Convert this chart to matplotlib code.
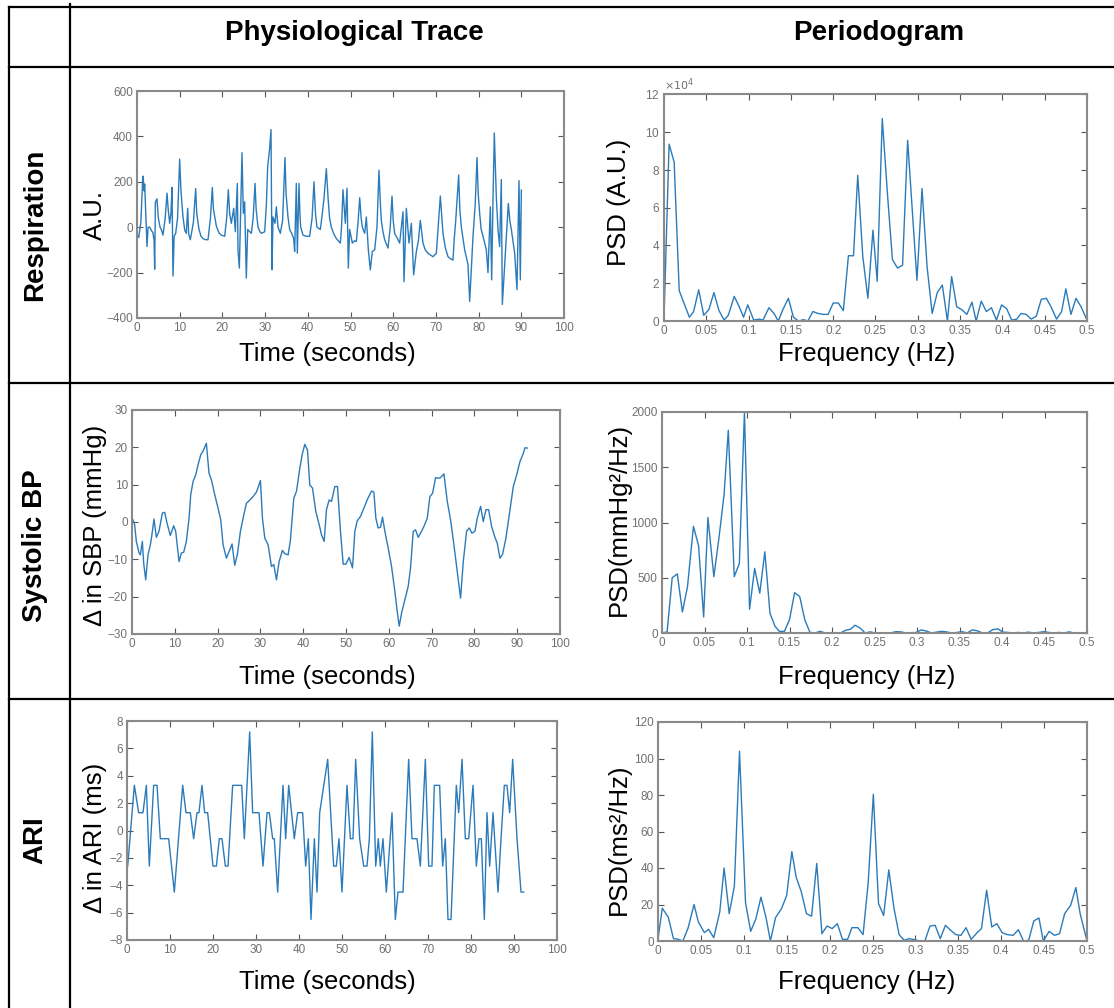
import matplotlib
matplotlib.use("Agg")
import matplotlib.pyplot as plt
from matplotlib.lines import Line2D
from matplotlib.ticker import FuncFormatter, ScalarFormatter

W, H = 1114, 1008
LINE = "#2b7bba"
SPINE = "#8a8a8a"
TICKC = "#707070"
TICKFONT = ["Liberation Sans Narrow", "Liberation Sans", "DejaVu Sans"]
FONT = ["Liberation Sans", "DejaVu Sans"]

# ---- data ----
resp_t = [0.0, 0.4, 0.9, 1.3, 1.45, 1.65, 1.8, 2.1, 2.34, 2.6, 2.97, 3.4, 3.75, 4.0, 4.14, 4.3,
          4.68, 5.0, 5.4, 5.7, 6.09, 6.6, 7.03, 7.3, 7.65, 7.95, 8.20, 8.43, 8.7, 9.06, 9.5,
          9.99, 10.3, 10.77, 11.2, 11.55, 11.87, 12.1, 12.49, 13.2, 13.74, 14.0, 14.52, 15.0,
          15.46, 16.0, 16.63, 17.2, 17.64, 17.9, 18.58, 19.2, 19.75, 20.53, 21.0, 21.39, 21.7,
          22.09, 22.64, 23.03, 23.50, 23.65, 23.97, 24.28, 24.59, 24.90, 25.21, 25.60, 25.92,
          26.4, 26.78, 27.2, 27.64, 27.9, 28.34, 28.8, 29.12, 29.90, 30.3, 30.60, 31.07, 31.38,
          31.62, 31.85, 32.32, 32.63, 33.02, 33.57, 34.1, 34.66, 34.9, 35.36, 35.75, 36.3, 36.69,
          36.92, 37.31, 37.55, 37.94, 38.15, 38.33, 38.88, 39.66, 40.44, 41.0, 41.45, 41.8,
          42.15, 42.94, 43.4, 43.79, 44.34, 44.73, 45.1, 45.51, 46.1, 46.68, 47.62, 47.9, 48.24,
          48.79, 49.18, 49.49, 49.80, 50.43, 50.9, 51.37, 51.8, 52.15, 52.5, 52.77, 53.32,
          53.71, 54.18, 54.64, 55.11, 55.66, 56.2, 56.67, 57.0, 57.22, 57.6, 58.00, 58.78, 59.3,
          59.72, 60.0, 60.34, 61.0, 61.51, 62.30, 62.53, 63.08, 63.70, 64.25, 64.79, 65.42,
          65.9, 66.35, 66.98, 67.5, 68.15, 69.32, 70.10, 70.6, 71.04, 71.66, 72.2, 72.83, 73.5,
          74.00, 74.3, 74.63, 75.33, 75.6, 75.96, 76.74, 77.52, 77.91, 78.69, 79.2, 79.63, 79.9,
          80.25, 80.6, 81.03, 81.81, 82.20, 82.75, 83.06, 83.37, 83.68, 84.15, 84.54, 84.93,
          85.32, 85.56, 85.95, 86.49, 86.96, 87.3, 87.67, 88.45, 88.99, 89.46, 89.77, 90.01]
resp_v = [-30, -45, 20, 200, 225, 160, 190, 30, -85, 0, 0, -15, -25, -60, -185, 110,
          125, 40, 0, -10, -35, 40, 150, 80, 17, 60, 175, -215, -40, -27, 40,
          300, 160, 45, -15, -27, 83, -30, -55, 20, 170, 60, -10, -40,
          -50, -55, -55, 40, 175, 80, 5, -25, -35, -40, 40, 165, 60,
          17, 83, -20, 193, -100, -180, 75, 328, 61, 112, -224, -10,
          -20, -27, 40, 193, 80, 0, -20, -27, -20, 100, 266, 347, 430,
          -188, 45, 17, 90, 0, -27, 30, 307, 150, 45, -10, -30, -50,
          -107, 193, -115, 193, 60, 0, -35, -40, -40, 40, 200, 60,
          0, -10, 60, 127, 258, 134, 40, 0, -30, -50, -70, 0, 165,
          17, 172, -180, -10, -70, -60, -63, 30, 130, 40, 0, -27,
          45, -100, -188, -107, -100, 0, 251, 100, 30, -20, -55, -92, 0,
          137, 30, -27, -50, -70, 68, -240, 83, -70, 17, -210, -107,
          -60, 30, -70, -100, -115, -130, -115, 20, 137, -27, -90, -130, -140,
          -145, -50, 25, 230, 80, 0, -100, -165, -327, -40, 100, 307, 150,
          61, -10, -40, -100, -200, 90, -232, 120, 415, 134, -10, -85,
          210, -340, -217, -40, 105, 30, -10, -115, -275, 205, -232, 164]

resp_f = [0.000, 0.006, 0.012, 0.018, 0.024, 0.030, 0.035, 0.041, 0.047, 0.053, 0.059, 0.065,
          0.071, 0.076, 0.083, 0.089, 0.094, 0.099, 0.106, 0.112, 0.117, 0.124, 0.130, 0.135,
          0.141, 0.147, 0.153, 0.159, 0.165, 0.170, 0.176, 0.182, 0.188, 0.194, 0.200, 0.206,
          0.212, 0.218, 0.224, 0.229, 0.235, 0.241, 0.247, 0.252, 0.258, 0.264, 0.270, 0.276,
          0.282, 0.288, 0.294, 0.299, 0.305, 0.311, 0.317, 0.323, 0.329, 0.335, 0.340, 0.346,
          0.352, 0.358, 0.364, 0.369, 0.375, 0.381, 0.387, 0.393, 0.399, 0.405, 0.411, 0.417,
          0.422, 0.428, 0.434, 0.440, 0.446, 0.452, 0.458, 0.464, 0.470, 0.475, 0.481, 0.487,
          0.493, 0.500]
resp_psd_e4 = [0.1, 9.35, 8.4, 1.6, 0.9, 0.2, 0.5, 1.65, 0.3, 0.6, 1.5, 0.55,
               0.05, 0.3, 1.3, 0.75, 0.2, 0.85, 0.05, 0.1, 0.05, 0.7, 0.4, 0.0,
               0.65, 1.2, 0.2, 0.0, 0.07, 0.0, 0.5, 0.4, 0.35, 0.35, 0.95, 0.95,
               0.55, 3.45, 3.45, 7.7, 3.4, 1.2, 4.8, 2.1, 10.7, 6.8, 3.25, 2.8,
               2.95, 9.55, 5.5, 2.15, 7.0, 2.85, 0.4, 1.5, 1.9, 0.0, 2.35, 0.75,
               0.6, 0.35, 1.0, 0.0, 1.05, 0.5, 0.7, 0.05, 0.85, 0.65, 0.05, 0.1,
               0.4, 0.35, 0.1, 0.25, 1.15, 1.2, 0.7, 0.1, 0.5, 1.7, 0.35, 1.2,
               0.75, 0.05]

sbp_t = [0.23, 0.62, 1.01, 1.64, 1.95, 2.42, 2.73, 3.20, 3.74, 4.29, 4.60, 5.14, 5.69, 6.31,
         7.09, 7.64, 8.18, 8.96, 9.74, 10.21, 10.52, 10.99, 11.54, 12.08, 12.70, 13.33, 13.72,
         14.26, 14.89, 15.43, 16.06, 16.60, 17.38, 17.99, 18.55, 19.33, 20.11, 20.73, 21.28,
         22.06, 22.68, 23.38, 24.01, 24.63, 25.33, 25.95, 26.73, 27.51, 28.29, 29.07, 29.54,
         30.01, 30.48, 31.02, 31.80, 32.58, 33.13, 33.75, 34.37, 35.15, 35.70, 36.48, 37.02,
         37.80, 38.43, 39.21, 39.75, 40.37, 41.00, 41.54, 42.17, 42.95, 43.73, 44.27, 44.90,
         45.44, 46.06, 46.61, 47.39, 48.01, 48.71, 49.34, 49.96, 50.74, 51.52, 52.07, 52.61,
         53.39, 54.17, 54.95, 55.96, 56.51, 56.98, 57.52, 58.07, 58.53, 59.08, 59.86, 60.64,
         61.42, 61.96, 62.43, 62.98, 63.76, 64.54, 65.08, 65.71, 66.25, 66.87, 67.65, 68.20,
         68.98, 69.60, 70.23, 70.93, 71.55, 72.10, 72.88, 73.66, 74.43, 75.21, 75.99, 76.77,
         77.40, 78.18, 78.80, 79.42, 80.12, 80.67, 81.45, 82.07, 82.70, 83.32, 84.02, 84.80,
         85.35, 85.97, 86.59, 87.37, 88.15, 89.09, 89.87, 90.65, 91.43, 91.82, 92.36]
sbp_v = [0.6, -0.7, -5.2, -8.3, -8.8, -5.2, -11.0, -15.5, -8.8, -6.1, -3.9, 0.8, -4.1, -2.5,
         2.4, 2.6, -0.3, -3.6, -1.0, -2.5, -5.7, -10.6, -8.3, -8.1, -5.2, 1.0, 7.3,
         10.8, 12.6, 15.3, 18.0, 19.0, 21.1, 13.1, 11.3, 7.3, 3.7, 0.6, -6.1,
         -9.7, -7.9, -5.9, -11.6, -8.6, -2.5, 1.0, 5.0, 5.9, 6.8, 8.0, 9.5,
         11.1, 1.0, -4.3, -6.1, -11.9, -11.4, -15.5, -10.6, -7.6, -8.5, -8.8, -4.8,
         6.4, 8.2, 14.4, 18.0, 20.8, 19.3, 9.9, 9.1, 2.8, -0.7, -3.4, -5.2,
         3.3, 5.9, 5.5, 9.5, 9.5, -2.5, -11.3, -11.3, -9.5, -12.3, -2.5, 0.3,
         1.5, 3.7, 5.9, 8.3, 8.0, 1.0, -1.6, -1.4, 1.3, -2.5, -7.0, -11.9,
         -18.6, -23.9, -27.9, -24.4, -20.8, -17.2, -12.3, -2.5, -2.1, -4.1, -2.5, -1.2,
         1.0, 6.8, 7.7, 11.9, 11.7, 11.9, 12.9, 5.5, 0.6, -6.1, -13.2, -20.4,
         -10.6, -2.5, -1.6, -3.0, -2.5, 1.0, 4.2, 0.1, 3.3, 3.3, -1.2, -4.1,
         -5.7, -9.7, -8.6, -4.3, 1.9, 9.5, 12.6, 16.2, 18.4, 19.9, 19.8]

sbp_f = [0.000, 0.006, 0.012, 0.018, 0.024, 0.030, 0.037, 0.043, 0.049, 0.054, 0.061, 0.067,
         0.073, 0.078, 0.085, 0.091, 0.097, 0.103, 0.109, 0.115, 0.121, 0.127, 0.133, 0.138,
         0.144, 0.150, 0.156, 0.162, 0.168, 0.174, 0.180, 0.186, 0.192, 0.198, 0.204, 0.210,
         0.216, 0.222, 0.227, 0.233, 0.239, 0.245, 0.251, 0.257, 0.263, 0.269, 0.275, 0.281,
         0.287, 0.293, 0.299, 0.305, 0.311, 0.317, 0.323, 0.329, 0.335, 0.341, 0.347, 0.353,
         0.359, 0.365, 0.371, 0.377, 0.383, 0.389, 0.395, 0.401, 0.407, 0.413, 0.419, 0.425,
         0.431, 0.437, 0.443, 0.449, 0.455, 0.461, 0.467, 0.473, 0.479, 0.485, 0.491]
sbp_psd = [0, 10, 500, 535, 190, 420, 965, 790, 145, 1045, 510, 860,
           1250, 1835, 510, 630, 2000, 215, 585, 360, 735, 180, 60, 15,
           15, 120, 365, 330, 120, 6, 0, 15, 0, 0, 0, 0,
           25, 35, 70, 45, 0, 10, 0, 0, 2, 0, 12, 10,
           0, 2, 5, 28, 18, 0, 8, 15, 10, 0, 5, 12,
           0, 28, 20, 0, 0, 30, 38, 8, 5, 0, 5, 0,
           8, 0, 5, 12, 5, 0, 5, 0, 10, 0, 0]

ari_t = [0.16, 1.71, 2.71, 3.72, 4.50, 5.19, 6.20, 6.98, 7.75, 9.69, 11.01, 12.95, 13.72,
         14.73, 15.50, 16.28, 16.74, 17.44, 18.06, 18.76, 20.00, 20.78, 21.47, 22.09, 22.87,
         23.49, 24.57, 26.67, 27.29, 28.53, 29.22, 30.70, 31.63, 32.56, 33.10, 33.88, 34.26,
         35.04, 36.28, 36.90, 37.60, 38.91, 39.69, 40.85, 41.55, 42.17, 42.79, 43.57, 44.19,
         44.81, 46.67, 48.06, 48.68, 49.30, 50.00, 51.16, 51.94, 52.56, 53.18, 54.11, 55.04,
         55.81, 56.36, 57.05, 57.83, 58.45, 58.91, 59.53, 60.31, 61.63, 62.40, 63.02, 64.19,
         65.50, 66.28, 67.44, 68.22, 69.38, 70.16, 70.93, 71.47, 72.71, 73.41, 74.03, 74.65,
         75.35, 76.59, 77.13, 77.91, 78.68, 79.46, 80.47, 81.24, 81.86, 82.40, 83.10, 83.72,
         84.34, 85.12, 86.28, 86.98, 87.75, 88.37, 88.99, 89.69, 90.70, 91.63, 92.25]
ari_v = [-2.6, 3.3, 1.3, 1.3, 3.3, -2.6, 3.3, 3.3, -0.6, -0.6, -4.5, 3.3, 1.3,
         1.3, -0.6, 1.3, 1.3, 3.3, 1.3, 1.3, -2.6, -2.6, -0.6, -0.6, -2.6,
         -2.6, 3.3, 3.3, -0.6, 7.2, 1.3, 1.3, -2.6, 1.3, 1.3, -0.6, -0.6,
         -4.5, 3.3, -0.6, 3.3, -0.6, 1.3, 1.3, -2.6, -0.6, -6.5, -0.6, -4.5,
         1.3, 5.2, -2.6, -2.6, -0.6, -4.5, 3.3, -0.6, -0.6, 5.2, -0.6, -2.6,
         -2.6, -0.6, 7.2, -2.6, -0.6, -2.6, -0.6, -4.5, 1.3, -6.5, -4.5, -4.5,
         5.2, -0.6, -0.6, -2.6, 5.2, -2.6, -2.6, 3.3, 3.3, -2.6, -0.6, -6.5,
         -6.5, 3.3, 1.3, 5.2, -0.6, -0.6, 3.3, -2.6, -0.6, -0.6, -6.5, 1.3,
         -2.6, 1.3, -4.5, -0.6, 3.3, 3.3, 1.3, 5.2, -0.6, -4.5, -4.5]

ari_f = [0.000, 0.005, 0.012, 0.018, 0.023, 0.029, 0.035, 0.042, 0.047, 0.054, 0.059, 0.065,
         0.072, 0.077, 0.083, 0.089, 0.095, 0.102, 0.108, 0.114, 0.120, 0.126, 0.131, 0.137,
         0.144, 0.150, 0.156, 0.161, 0.167, 0.173, 0.179, 0.185, 0.191, 0.197, 0.203, 0.209,
         0.215, 0.221, 0.226, 0.233, 0.239, 0.245, 0.251, 0.257, 0.263, 0.269, 0.275, 0.281,
         0.287, 0.293, 0.299, 0.305, 0.311, 0.317, 0.323, 0.329, 0.335, 0.341, 0.347, 0.353,
         0.359, 0.365, 0.372, 0.377, 0.383, 0.389, 0.395, 0.401, 0.407, 0.414, 0.420, 0.426,
         0.432, 0.438, 0.444, 0.449, 0.456, 0.462, 0.468, 0.474, 0.481, 0.487, 0.492, 0.500]
ari_psd = [1, 18, 13, 1.3, 1, 0, 7, 20, 10.5, 4.6, 6.4, 1.8,
           16, 40, 15, 30, 104, 21, 5.3, 12, 24, 12.6, 0, 12.8,
           17.8, 25, 49, 35, 27, 15, 13.6, 42.5, 4, 8.2, 6.8, 9.5,
           0.9, 0.9, 7.3, 7.3, 3.5, 32, 80.4, 20.5, 14, 39, 18, 3.5,
           0.4, 1.3, 0.7, 0, 0, 8.2, 8.6, 1.3, 8.6, 5.9, 3.5, 3.1,
           7.3, 0.9, 4.6, 6.8, 27.8, 7.7, 9.5, 4.6, 3.5, 3.1, 6.2, 0,
           0.4, 11, 12.6, 0, 5.3, 3.1, 4, 15, 19.6, 29.3, 15, 0]

row_names = ["Respiration", "Systolic BP", "ARI"]
col_names = ["Physiological Trace", "Periodogram"]
trace_ylabels = ["A.U.", "\u0394 in SBP (mmHg)", "\u0394 in ARI (ms)"]
psd_ylabels = ["PSD (A.U.)", "PSD(mmHg\u00b2/Hz)", "PSD(ms\u00b2/Hz)"]

fig = plt.figure(figsize=(W / 100, H / 100), dpi=100)
fig.patch.set_facecolor("white")


def box(l, t, r, b):
    return [l / W, 1 - b / H, (r - l) / W, (b - t) / H]


def ftext(px, py, s, **kw):
    fig.text(px / W, 1 - py / H, s, ha="center", va="center", **kw)


def hline(py, x0, x1):
    fig.add_artist(Line2D([x0 / W, x1 / W], [1 - py / H, 1 - py / H],
                          transform=fig.transFigure, color="black", lw=1.6))


def vline(px, y0, y1):
    fig.add_artist(Line2D([px / W, px / W], [1 - y0 / H, 1 - y1 / H],
                          transform=fig.transFigure, color="black", lw=1.6))


def style(ax, xticks, yticks, xlim, ylim, fmt=False):
    ax.set_xlim(*xlim)
    ax.set_ylim(*ylim)
    ax.set_xticks(xticks)
    ax.set_yticks(yticks)
    if fmt:
        ax.xaxis.set_major_formatter(FuncFormatter(lambda v, p: f"{v:g}"))
    for s in ax.spines.values():
        s.set_color(SPINE)
        s.set_linewidth(1.5)
    ax.tick_params(direction="in", top=True, right=True, length=4, width=0.8,
                   color="#555555", labelcolor=TICKC, labelsize=8.5, pad=3)
    for lab in ax.get_xticklabels() + ax.get_yticklabels():
        lab.set_family(TICKFONT)


# table grid
hline(7, 9, W)
hline(67, 9, W)
hline(383, 9, W)
hline(699, 9, W)
vline(9, 7, H)
vline(70, 4, H)

ftext(354, 33, col_names[0], family=FONT, fontsize=20, fontweight="bold")
ftext(879, 33, col_names[1], family=FONT, fontsize=20, fontweight="bold")
for name, cy in zip(row_names, [225, 546, 840]):
    ftext(35, cy, name, family=FONT, fontsize=20, fontweight="bold", rotation=90)

# row 1: respiration
ax = fig.add_axes(box(137, 91, 564, 318))
ax.plot(resp_t, resp_v, color=LINE, lw=1.0)
style(ax, range(0, 101, 10), range(-400, 601, 200), (0, 100), (-400, 600))

ax = fig.add_axes(box(664, 94, 1087, 321))
ax.plot(resp_f, [v * 1e4 for v in resp_psd_e4], color=LINE, lw=1.0)
style(ax, [i * 0.05 for i in range(11)], [i * 2e4 for i in range(7)], (0, 0.5), (0, 12e4), fmt=True)
sf = ScalarFormatter(useMathText=True)
sf.set_powerlimits((4, 4))
ax.yaxis.set_major_formatter(sf)
ax.yaxis.get_offset_text().set_fontsize(8)
ax.yaxis.get_offset_text().set_color(TICKC)

# row 2: systolic BP
ax = fig.add_axes(box(132, 410, 560, 634))
ax.plot(sbp_t, sbp_v, color=LINE, lw=1.0)
style(ax, range(0, 101, 10), range(-30, 31, 10), (0, 100), (-30, 30))

ax = fig.add_axes(box(662, 412, 1087, 633))
ax.plot(sbp_f, sbp_psd, color=LINE, lw=1.0)
style(ax, [i * 0.05 for i in range(11)], range(0, 2001, 500), (0, 0.5), (0, 2000), fmt=True)

# row 3: ARI
ax = fig.add_axes(box(127, 721, 557, 940))
ax.plot(ari_t, ari_v, color=LINE, lw=1.0)
style(ax, range(0, 101, 10), range(-8, 9, 2), (0, 100), (-8, 8))

ax = fig.add_axes(box(658, 722, 1087, 941))
ax.plot(ari_f, ari_psd, color=LINE, lw=1.0)
style(ax, [i * 0.05 for i in range(11)], range(0, 121, 20), (0, 0.5), (0, 120), fmt=True)

# axis labels
for lab, cy in zip(trace_ylabels, [215, 525, 838]):
    ftext(95, cy, lab, family=FONT, fontsize=18.5, rotation=90)
for lab, cy in zip(psd_ylabels, [202, 519, 839]):
    ftext(619, cy, lab, family=FONT, fontsize=18.5, rotation=90)
for cy in [354, 677, 982]:
    ftext(327, cy, "Time (seconds)", family=FONT, fontsize=18.5)
    ftext(867, cy, "Frequency (Hz)", family=FONT, fontsize=18.5)

fig.savefig("out.png", dpi=100, facecolor="white")
